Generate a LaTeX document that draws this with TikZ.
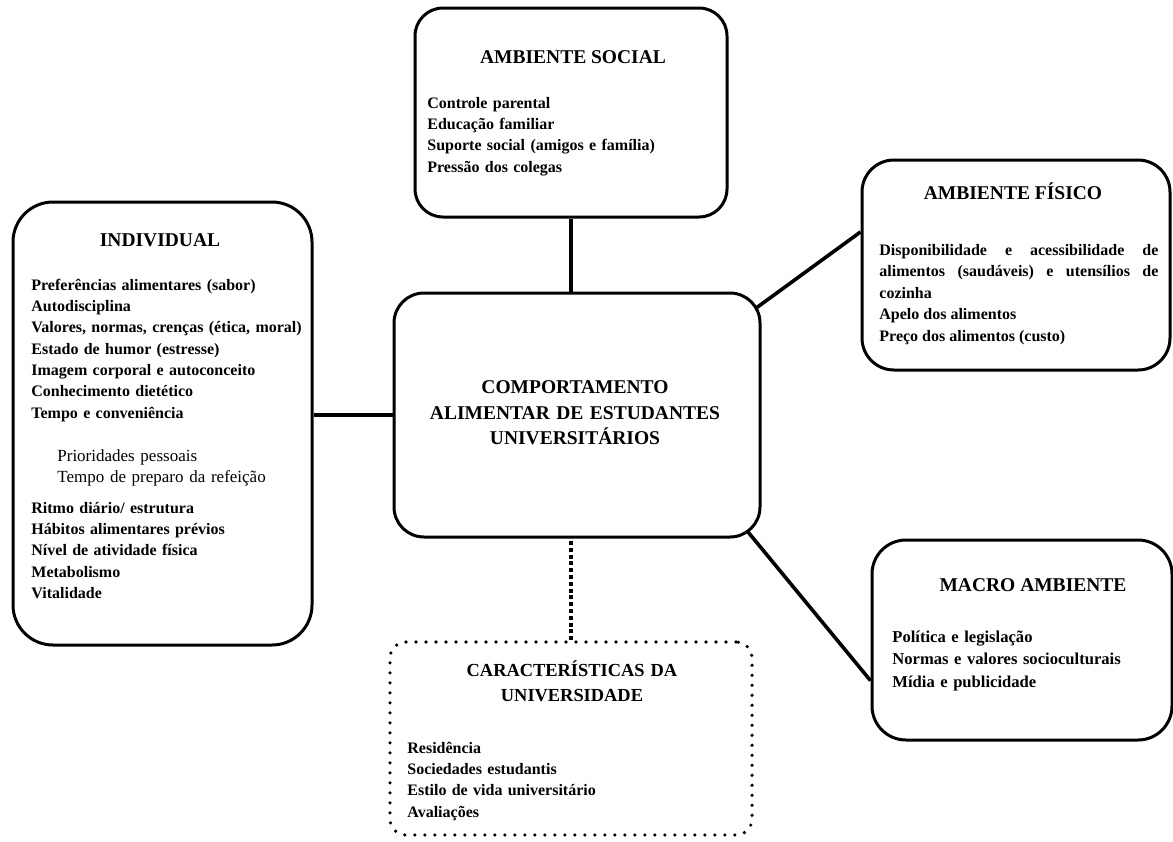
\documentclass[tikz,border=0pt]{standalone}
\usepackage{fontspec}
\setmainfont{Liberation Serif}
\usetikzlibrary{calc,backgrounds}
\begin{document}
\begin{tikzpicture}[x=0.5pt,y=-0.5pt,
  box/.style={draw,line width=1.5pt,fill=white,inner sep=0pt,rectangle},
  conn/.style={line width=1.8pt},
  dotconn/.style={line width=2pt,dash pattern=on 2pt off 1.4pt},
  dotbox/.style={draw,line width=1.8pt,line cap=round,dash pattern=on 0pt off 5pt,fill=white,inner sep=0pt,rectangle},
  title/.style={font=\bfseries\fontsize{9.75}{12.75}\selectfont,anchor=base,inner sep=0pt},
  items/.style={font=\bfseries\fontsize{8}{10.67}\selectfont,anchor=base west,inner sep=0pt,align=left,text width=150pt},
  subitems/.style={font=\fontsize{8.5}{10.5}\selectfont,anchor=base west,inner sep=0pt,align=left,text width=150pt}]
\useasboundingbox (0,0) rectangle (1173,841);

% boxes
\node[box,rounded corners=14pt,minimum width=156pt,minimum height=104.5pt] (social) at (571,112.5) {};
\node[box,rounded corners=16pt,minimum width=154pt,minimum height=105pt] (fisico) at (1016,265) {};
\node[box,rounded corners=20pt,minimum width=149.5pt,minimum height=221.5pt] (individual) at (162.5,423.5) {};
\node[box,rounded corners=15pt,minimum width=183pt,minimum height=122pt] (center) at (577,415) {};
\node[box,rounded corners=17pt,minimum width=150pt,minimum height=100pt] (macro) at (1022,640) {};
\node[dotbox,rounded corners=8pt,minimum width=181pt,minimum height=96.5pt] (charac) at (571,738.5) {};

% connectors
\begin{scope}[on background layer]
\draw[conn] (social.south) -- (social.south |- center.north);
\draw[conn] (center.west) -- (center.west -| individual.east);
\draw[conn] (fisico.168) -- ($(fisico.168)!1.12!(center.31)$);
\draw[conn] (macro.195) -- ($(macro.195)!1.12!(center.325)$);
\draw[dotconn] (charac.north) -- (charac.north |- center.south);
\end{scope}

% social
\node[title] (socialT) at (573,63.5) {AMBIENTE SOCIAL};
\node[items] (socialI) at (427,108) {Controle parental\\Educação familiar\\Suporte social (amigos e família)\\Pressão dos colegas};

% fisico
\node[title] (fisicoT) at (1013,199.5) {AMBIENTE FÍSICO};
\node[items,text width=139.5pt,align=justify,font=\bfseries\fontsize{8}{10.75}\selectfont] (fisicoI) at (879,255)
  {\tolerance=10000\relax Disponibilidade e acessibilidade de\linebreak alimentos (saudáveis) e utensílios de\linebreak cozinha\par Apelo dos alimentos\par Preço dos alimentos (custo)};

% individual
\node[title] (indT) at (160,246.6) {INDIVIDUAL};
\node[items] (indA) at (31,290) {Preferências alimentares (sabor)\\Autodisciplina\\Valores, normas, crenças (ética, moral)\\Estado de humor (estresse)\\Imagem corporal e autoconceito\\Conhecimento dietético\\Tempo e conveniência};
\node[subitems] (indS) at (57,461) {Prioridades pessoais\\Tempo de preparo da refeição};
\node[items] (indB) at (31,513) {Ritmo diário/ estrutura\\Hábitos alimentares prévios\\Nível de atividade física\\Metabolismo\\Vitalidade};

% center
\node[title,align=center,text width=200pt] (centerT) at (575,393.5) {COMPORTAMENTO\\ALIMENTAR DE ESTUDANTES\\UNIVERSITÁRIOS};

% macro
\node[title] (macroT) at (1033,591.6) {MACRO AMBIENTE};
\node[items,font=\bfseries\fontsize{8.3}{11.25}\selectfont] (macroI) at (892,642) {Política e legislação\\Normas e valores socioculturais\\Mídia e publicidade};

% caracteristicas
\node[title,align=center,text width=200pt,font=\bfseries\fontsize{9.2}{12.5}\selectfont] (characT) at (572,676.6) {CARACTERÍSTICAS DA\\UNIVERSIDADE};
\node[items] (characI) at (407,753) {Residência\\Sociedades estudantis\\Estilo de vida universitário\\Avaliações};
\end{tikzpicture}
\end{document}
